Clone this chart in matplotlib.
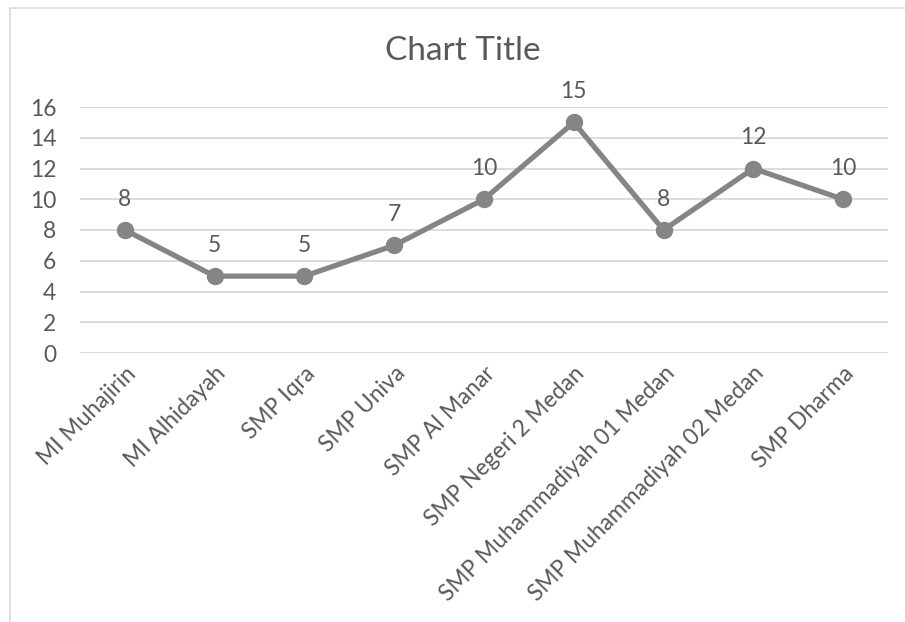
import matplotlib
matplotlib.use("Agg")
import matplotlib.pyplot as plt
from matplotlib.lines import Line2D

categories = ["MI Muhajirin", "MI Alhidayah", "SMP Iqra", "SMP Univa", "SMP Al Manar",
              "SMP Negeri 2 Medan", "SMP Muhammadiyah 01 Medan", "SMP Muhammadiyah 02 Medan",
              "SMP Dharma"]
values = [8, 5, 5, 7, 10, 15, 8, 12, 10]
yticks = [0, 2, 4, 6, 8, 10, 12, 14, 16]
title = "Chart Title"

plt.rcParams['font.family'] = ['Lato', 'DejaVu Sans']
W, H = 905, 622
fig = plt.figure(figsize=(W / 100, H / 100), dpi=100)
fig.patch.set_facecolor('white')

ax = fig.add_axes([80 / W, 1 - 353 / H, (888 - 80) / W, (353 - 107) / H])
x = list(range(len(categories)))
line_color = '#858585'
text_color = '#595959'
fs = 16.4
ax.plot(x, values, color=line_color, lw=3.8, marker='o', ms=11.5,
        markerfacecolor=line_color, markeredgecolor=line_color, solid_capstyle='round', zorder=3)
for xi, v in zip(x, values):
    ax.annotate(str(v), (xi, v), xytext=(0, 31), textcoords='offset pixels',
                ha='center', va='center', fontsize=fs, color=text_color)

ax.set_xlim(-0.5, len(categories) - 0.5)
ax.set_ylim(0, 16)
ax.set_yticks(yticks)
ax.set_yticklabels([str(t) for t in yticks])
ax.set_xticks(x)
ax.set_xticklabels(categories, rotation=45, ha='right', va='top', rotation_mode='anchor')
ax.tick_params(axis='both', length=0, colors=text_color, labelsize=fs)
ax.tick_params(axis='y', pad=17)
ax.tick_params(axis='x', pad=7)
for s in ax.spines.values():
    s.set_visible(False)
ax.grid(axis='y', color='#D9D9D9', lw=1.3)
ax.set_axisbelow(True)

fig.text(463 / W, 1 - 51 / H, title, ha='center', va='center', fontsize=24, color=text_color)

border = '#D9D9D9'
fig.add_artist(Line2D([10 / W, 10 / W], [1 - 8 / H, 0], transform=fig.transFigure, color=border, lw=1.2))
fig.add_artist(Line2D([10 / W, 1], [1 - 8 / H, 1 - 8 / H], transform=fig.transFigure, color=border, lw=1.2))

fig.savefig('out.png', dpi=100, facecolor='white')
